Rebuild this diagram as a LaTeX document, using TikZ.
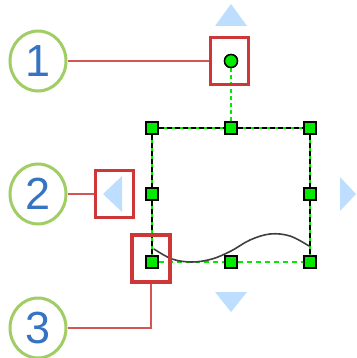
\documentclass[tikz,border=0pt]{standalone}
\usepackage{fontspec}
\setmainfont{Liberation Sans}
\usetikzlibrary{shapes.geometric}

\definecolor{handlegreen}{RGB}{0,235,0}
\definecolor{calloutgreen}{RGB}{160,205,100}
\definecolor{calloutblue}{RGB}{55,115,195}
\definecolor{boxred}{RGB}{205,55,55}
\definecolor{arrowblue}{RGB}{190,222,255}

\begin{document}
\begin{tikzpicture}[
    x=1pt, y=-1pt,
    handle/.style={rectangle, draw=black, fill=handlegreen, line width=1.4pt, minimum size=12pt, inner sep=0pt},
    rothandle/.style={circle, draw=black, fill=handlegreen, line width=1.4pt, minimum size=13pt, inner sep=0pt},
    callout/.style={ellipse, draw=calloutgreen, fill=white, line width=3pt, minimum width=56pt, minimum height=60pt, inner sep=0pt,
      text=calloutblue, font=\fontsize{45}{45}\selectfont},
    redbox/.style={rectangle, draw=boxred, line width=3.8pt, minimum width=38pt, minimum height=47pt, inner sep=0pt},
    leader/.style={draw=boxred!85, line width=1.6pt},
    selline/.style={line width=1.3pt},
    shiftarrow/.style={fill=arrowblue}
]
  \useasboundingbox (0,0) rectangle (356,358);

  % The shape's eight selection handles and its rotation handle.
  \node[handle] (tl) at (152,128) {};
  \node[handle] (tm) at (231,128) {};
  \node[handle] (tr) at (310,128) {};
  \node[handle] (ml) at (152,194) {};
  \node[handle] (mr) at (310,194) {};
  \node[handle] (bl) at (152,262) {};
  \node[handle] (bm) at (231,262) {};
  \node[handle] (br) at (310,262) {};
  \node[rothandle] (rot) at (231,61) {};

  % Selection outline: black dashes over green, green dashes along the bottom.
  \foreach \a/\b in {tl/tm, tm/tr, tl/ml, ml/bl, tr/mr, mr/br} {
    \draw[selline, handlegreen] (\a) -- (\b);
    \draw[selline, black, dash pattern=on 5pt off 3pt] (\a) -- (\b);
  }
  \draw[selline, handlegreen, dash pattern=on 5pt off 4pt] (bl) -- (bm);
  \draw[selline, handlegreen, dash pattern=on 5pt off 4pt] (bm) -- (br);
  \draw[selline, handlegreen, dash pattern=on 4pt off 3pt] (rot) -- (tm);

  % Wavy bottom edge of the shape.
  \draw[line width=1.6pt, black!75, line cap=round] plot[smooth, tension=0.6] coordinates
    {(154,249) (172,259) (192,262) (212,259) (231,251) (250,240) (270,234) (290,236) (309,246)};

  % Redraw the handles on top.
  \foreach \h in {tl, tm, tr, ml, mr, bl, bm, br}
    \node[handle] at (\h) {};
  \node[rothandle] at (rot) {};

  % Blue shift arrows.
  \fill[shiftarrow] (231,4) -- (247,26) -- (215,26) -- cycle;
  \fill[shiftarrow] (231,312) -- (247,292) -- (215,292) -- cycle;
  \fill[shiftarrow] (356,194) -- (340,177) -- (340,211) -- cycle;
  \fill[shiftarrow] (103,194) -- (122,176) -- (122,212) -- cycle;

  % Highlight boxes.
  \node[redbox] (boxA) at (229.5,61) {};
  \node[redbox] (boxB) at (114.5,194) {};
  \node[redbox] (boxC) at (151,258.5) {};

  % Numbered callouts.
  \node[callout] (c1) at (38,61) {1};
  \node[callout] (c2) at (38,194) {2};
  \node[callout] (c3) at (38,328) {3};

  \draw[leader] (c1) -- (boxA);
  \draw[leader] (c2) -- (boxB);
  \draw[leader] (boxC.south) |- (c3);
\end{tikzpicture}
\end{document}
